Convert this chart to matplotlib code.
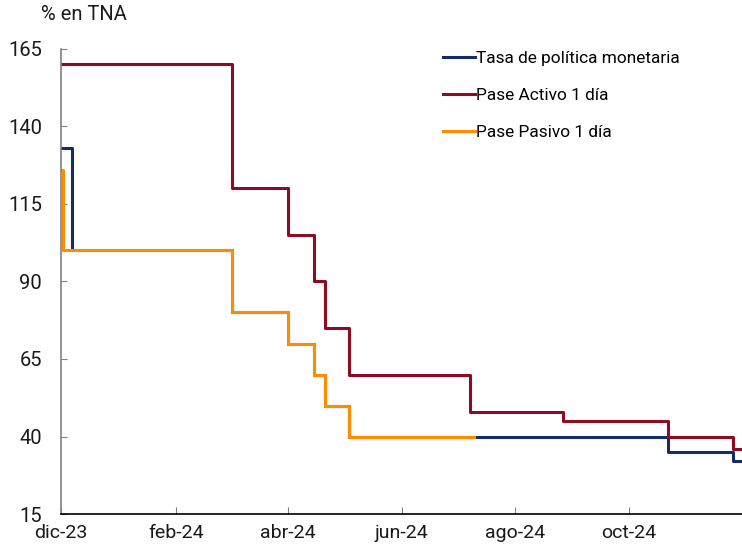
import numpy as np
import pandas as pd
import matplotlib
matplotlib.use("Agg")
import matplotlib.pyplot as plt

plt.rcParams["font.family"] = ["Roboto", "DejaVu Sans"]

# Policy rates (% TNA): dates where each rate changes and the new value
tpm_dates = ["2023-12-11", "2023-12-17", "2024-03-12", "2024-04-11", "2024-04-25",
             "2024-05-01", "2024-05-14", "2024-11-01", "2024-12-06"]
tpm_values = [133, 100, 80, 70, 60, 50, 40, 35, 32]
tpm_end = "2024-12-10"

activo_dates = ["2023-12-11", "2024-03-12", "2024-04-11", "2024-04-25", "2024-05-01",
                "2024-05-14", "2024-07-18", "2024-09-06", "2024-11-01", "2024-12-06"]
activo_values = [160, 120, 105, 90, 75, 60, 48, 45, 40, 36]
activo_end = "2024-12-10"

pasivo_dates = ["2023-12-11", "2023-12-12", "2024-03-12", "2024-04-11", "2024-04-25",
                "2024-05-01", "2024-05-14"]
pasivo_values = [126, 100, 80, 70, 60, 50, 40]
pasivo_end = "2024-07-20"

tick_dates = ["2023-12-11", "2024-02-11", "2024-04-11", "2024-06-11", "2024-08-11", "2024-10-11"]
tick_labels = ["dic-23", "feb-24", "abr-24", "jun-24", "ago-24", "oct-24"]
y_ticks = [15, 40, 65, 90, 115, 140, 165]


def step_series(dates, values, end):
    # repeat the last value at the end date so the final step is drawn
    x = pd.to_datetime(dates + [end])
    y = values + [values[-1]]
    return x, y


def main():
    fig = plt.figure(figsize=(7.42, 5.49), dpi=100)
    ax = fig.add_axes([61 / 742, 1 - 514 / 549, 681 / 742, 465 / 549])

    series = [
        (tpm_dates, tpm_values, tpm_end, "#142d69", "Tasa de política monetaria"),
        (activo_dates, activo_values, activo_end, "#8e0a25", "Pase Activo 1 día"),
        (pasivo_dates, pasivo_values, pasivo_end, "#ff8c00", "Pase Pasivo 1 día"),
    ]
    for dates, values, end, color, label in series:
        x, y = step_series(dates, values, end)
        ax.plot(x, y, drawstyle="steps-post", color=color, linewidth=2.2, label=label)

    ax.set_xlim(pd.Timestamp("2023-12-11"), pd.Timestamp("2024-12-11"))
    ax.set_ylim(15, 165)
    ax.set_yticks(y_ticks)
    ax.set_xticks(pd.to_datetime(tick_dates))
    ax.set_xticklabels(tick_labels)

    for side in ["top", "right"]:
        ax.spines[side].set_visible(False)
    ax.spines["left"].set_color("#808080")
    ax.spines["left"].set_linewidth(1.2)
    ax.spines["bottom"].set_color("#000000")
    ax.spines["bottom"].set_linewidth(1.2)

    ax.tick_params(axis="y", direction="in", length=4.5, color="#808080",
                   labelsize=14.5, pad=13.5, labelcolor="#1a1a1a")
    ax.tick_params(axis="x", direction="in", length=5, color="#808080",
                   labelsize=14, pad=7.5, labelcolor="#1a1a1a")

    fig.text(41 / 742, 1 - 15 / 549, "% en TNA", fontsize=14.5, va="center",
             ha="left", color="#1a1a1a")

    ax.legend(loc="upper left", bbox_to_anchor=(443 / 742, 1 - 50.5 / 549),
              bbox_transform=fig.transFigure, frameon=False, fontsize=12.4,
              handlelength=1.86, handletextpad=0.06, labelspacing=1.3,
              borderpad=0, borderaxespad=0)

    fig.savefig("out.png", dpi=100)
    plt.close(fig)


if __name__ == "__main__":
    main()
